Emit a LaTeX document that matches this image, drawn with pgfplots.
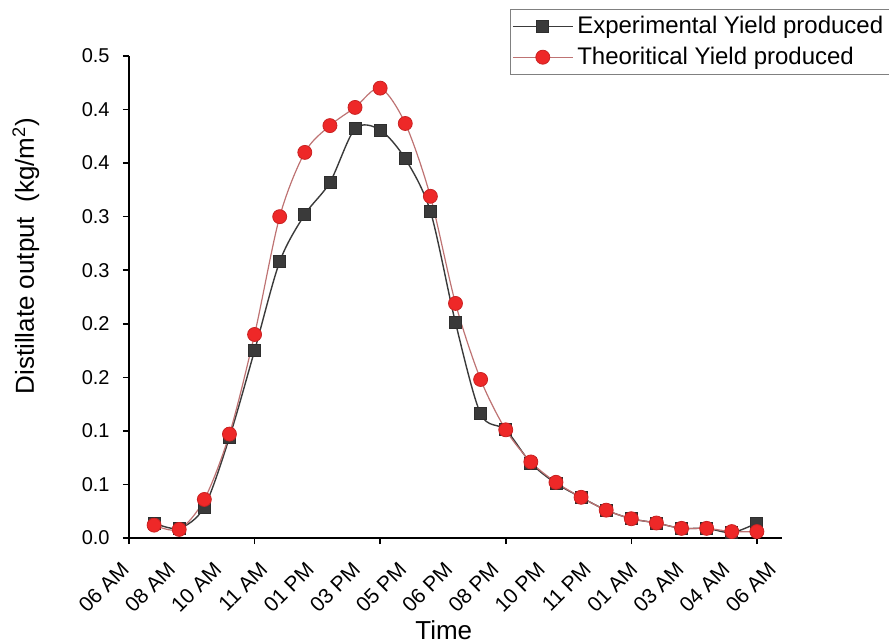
\documentclass[border=0pt]{standalone}
\usepackage{pgfplots}
\pgfplotsset{compat=1.18}
\usepackage{fontspec}
\setmainfont{Liberation Sans}

\definecolor{expgray}{RGB}{58,58,58}
\definecolor{theored}{RGB}{238,40,40}
\definecolor{theoline}{RGB}{190,115,115}

% yield per hour, x = 1..25
\pgfplotstableread{
x  exp    theo
1  0.014  0.012
2  0.009  0.008
3  0.029  0.036
4  0.094  0.097
5  0.175  0.190
6  0.258  0.300
7  0.302  0.360
8  0.332  0.385
9  0.382  0.402
10 0.381  0.420
11 0.354  0.387
12 0.305  0.319
13 0.201  0.219
14 0.116  0.148
15 0.101  0.101
16 0.070  0.071
17 0.051  0.052
18 0.038  0.038
19 0.026  0.026
20 0.018  0.018
21 0.014  0.014
22 0.009  0.009
23 0.009  0.009
24 0.005  0.006
25 0.014  0.006
}\yielddata

\begin{document}
\begin{tikzpicture}
\begin{axis}[
  scale only axis,
  width=326.5pt, height=241pt,
  xmin=0, xmax=26,
  ymin=0, ymax=0.45,
  axis lines*=left,
  axis line style={line width=1pt},
  tick align=outside,
  major tick length=3pt,
  tick style={black, line width=0.8pt},
  xtick={0,5,10,15,20,25},
  xticklabels={},
  extra x ticks={0.04,1.88,3.72,5.56,7.40,9.24,11.08,12.92,14.76,16.60,18.44,20.28,22.12,23.96,25.80},
  extra x tick labels={06 AM,08 AM,10 AM,11 AM,01 PM,03 PM,05 PM,06 PM,08 PM,10 PM,11 PM,01 AM,03 AM,04 AM,06 AM},
  extra x tick style={major tick length=0pt},
  xticklabel style={xshift=-5pt, yshift=-11pt, rotate=45, anchor=north east, inner sep=0pt,
    font=\fontsize{10.5}{12}\selectfont},
  ytick={0,0.05,0.1,0.15,0.2,0.25,0.3,0.35,0.4,0.45},
  yticklabels={0.0,0.1,0.1,0.2,0.2,0.3,0.3,0.4,0.4,0.5},
  yticklabel style={inner sep=0pt, xshift=-6.5pt, font=\fontsize{10}{12}\selectfont},
  xlabel={Time},
  ylabel={Distillate output\ \ (kg/m\textsuperscript{2})},
  xlabel style={at={(rel axis cs:0.482,-0.191)}, anchor=center, font=\fontsize{13}{15}\selectfont},
  ylabel style={at={(rel axis cs:-0.158,0.585)}, anchor=center, font=\fontsize{13}{15}\selectfont},
  legend style={at={(0.583,1.0975)}, anchor=north west, draw=gray, line width=0.6pt,
    font=\fontsize{12}{14}\selectfont, row sep=1pt, inner xsep=1pt, inner ysep=1.5pt,
    /tikz/every odd column/.append style={column sep=0pt}},
  legend cell align=left,
  legend image code/.code={\draw[mark repeat=2,mark phase=2,#1,line width=0.5pt]
    plot coordinates {(0pt,0pt)(15pt,0pt)(30pt,0pt)};},
]
\addplot[smooth, color=expgray, line width=0.7pt, mark=square*,
  mark size=3pt, mark options={fill=expgray, draw=expgray!80!black, line width=0.4pt}]
  table[x=x, y=exp] {\yielddata};
\addlegendentry{Experimental Yield produced}
\addplot[smooth, color=theoline, line width=0.6pt, mark=*,
  mark size=3.5pt, mark options={fill=theored, draw=theored!85!black, line width=0.4pt}]
  table[x=x, y=theo] {\yielddata};
\addlegendentry{Theoritical Yield produced}
\end{axis}
\pgfresetboundingbox
\path[use as bounding box] (-64.5pt,-52.5pt) rectangle (380pt,269pt);
\end{tikzpicture}
\end{document}
